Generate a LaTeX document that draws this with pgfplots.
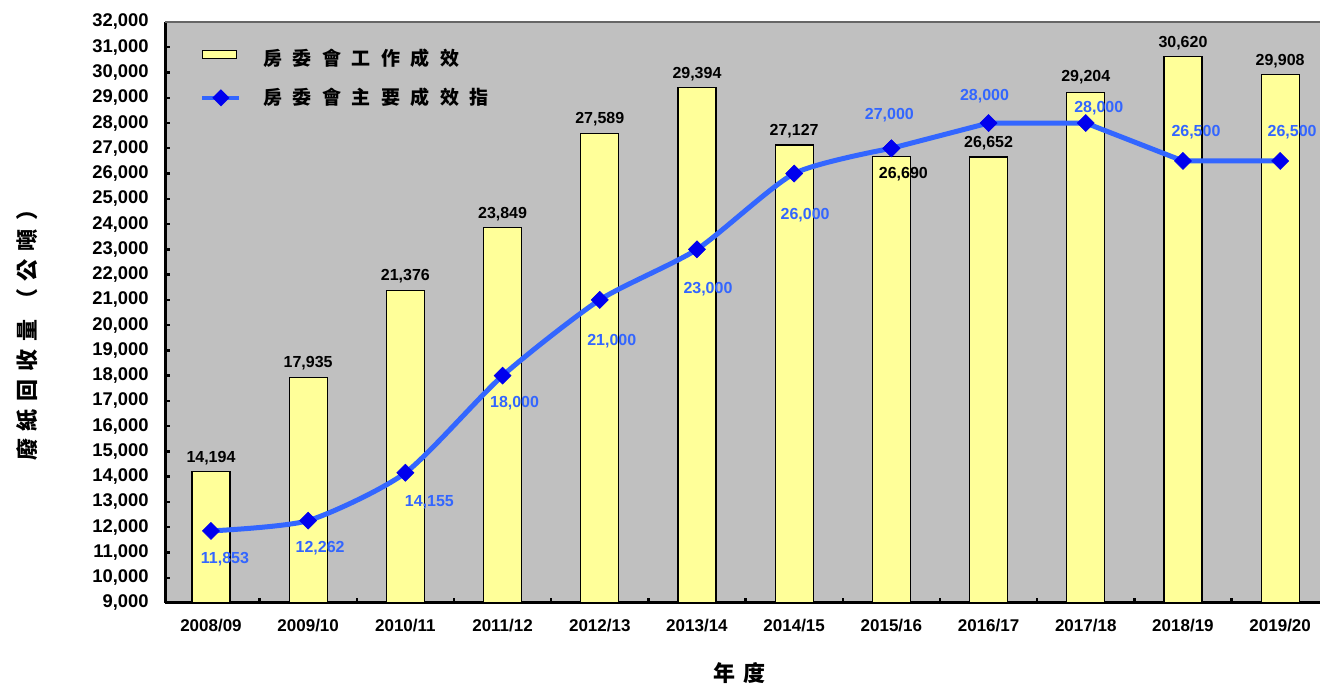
\documentclass[border=0pt]{standalone}
\usepackage{fontspec}
\setmainfont{Liberation Sans}
\newfontfamily\cjk{Noto Sans CJK TC}
\usepackage{pgfplots}
\usepackage{pgfplotstable}
\pgfplotsset{compat=1.18}
\definecolor{bggray}{HTML}{C0C0C0}
\definecolor{baryellow}{HTML}{FFFF99}
\definecolor{lineblue}{HTML}{3366FF}
\definecolor{markblue}{HTML}{0000EE}
\def\g{\hspace{5.25pt}}
\def\gy{\hspace{4pt}}
\pgfplotstableread{
x y dx dy
0 14194 0 7
1 17935 0 7
2 21376 0 7
3 23849 0 7
4 27589 0 7
5 29394 0 7
6 27127 0 7
7 26690 6 -9
8 26652 0 7
9 29204 0 7.5
10 30620 0 7
11 29908 0 7
}\bars
\pgfplotstableread{
x y dx dy
0 11853 7 -14
1 12262 6 -14
2 14155 12 -14.5
3 18000 6 -14
4 21000 6 -20.5
5 23000 5.5 -20
6 26000 5.5 -21
7 27000 -1 16.5
8 28000 -2 13.5
9 28000 6.5 7.5
10 26500 6.5 14.5
11 26500 6 14.5
}\target
\pgfplotsset{
  labelplot/.style={draw=none, mark=none, forget plot,
    visualization depends on={\thisrow{dx}\as\ldx},
    visualization depends on={\thisrow{dy}\as\ldy},
    nodes near coords={\pgfmathprintnumber[fixed,precision=0,1000 sep={,}]{\pgfplotspointmeta}},
    nodes near coords style={anchor=center, xshift=\ldx pt, yshift=\ldy pt, font=\fontsize{8}{10}\selectfont\bfseries, inner sep=0pt, #1}},
  lineplot/.style={color=lineblue, line width=2.5pt,
    mark=square*, mark size=3pt, mark options={rotate=45, fill=markblue, draw=markblue, line width=0.3pt}},
}
\begin{document}
\begin{tikzpicture}
\useasboundingbox (0,0) rectangle (660pt,342pt);
\begin{axis}[
  at={(82.5pt,40.5pt)}, anchor=south west,
  scale only axis, width=577.5pt, height=290.5pt,
  xmin=-0.473, xmax=11.41, ymin=9000, ymax=32000,
  axis x line=bottom, axis y line=left,
  axis line style={-, line width=1.5pt, black},
  axis background/.style={fill=bggray},
  /pgf/number format/assume math mode=true,
  scaled y ticks=false,
  xtick={0,...,11},
  xticklabels={2008/09,2009/10,2010/11,2011/12,2012/13,2013/14,2014/15,2015/16,2016/17,2017/18,2018/19,2019/20},
  minor xtick={0.5,1.5,...,10.5},
  ytick={9000,10000,...,32000},
  minor ytick={10000,11000,...,31000},
  yticklabel={\pgfmathprintnumber[fixed,precision=0,1000 sep={,}]{\tick}},
  major tick length=0pt, minor tick length=2.5pt,
  tick align=inside,
  minor tick style={line width=1.2pt, black},
  xticklabel style={font=\fontsize{8.5}{10}\selectfont\bfseries, inner sep=0pt, anchor=north, yshift=-8pt},
  yticklabel style={font=\fontsize{9.2}{11}\selectfont\bfseries, inner sep=0pt, anchor=east, xshift=-8pt},
  clip=true,
  legend style={draw=none, fill=none, at={(axis description cs:0.0303,0.962)}, anchor=north west,
    font=\fontsize{9.5}{11}\selectfont\cjk\bfseries, row sep=6pt, inner sep=0pt,
    /tikz/every odd column/.append style={column sep=9pt}},
  legend cell align=left,
]
\addplot[ybar, bar width=19pt, fill=baryellow, draw=black, line width=0.6pt,
  legend image code/.code={\draw[fill=baryellow, draw=black, line width=0.6pt] (0pt,0pt) rectangle (17pt,4pt);}
] table[x=x,y=y] {\bars};
\addlegendentry{房\g 委\g 會\g 工\g 作\g 成\g 效}
\addplot[lineplot, smooth, tension=0.4, restrict x to domain=0:7,
  legend image code/.code={\draw[lineblue, line width=2pt] (0pt,0pt) -- (18.5pt,0pt);
    \fill[markblue] (9.25pt,2.5pt) -- (11.75pt,0pt) -- (9.25pt,-2.5pt) -- (6.75pt,0pt) -- cycle;}
] table[x=x,y=y] {\target};
\addlegendentry{房\g 委\g 會\g 主\g 要\g 成\g 效\g 指}
\addplot[lineplot, sharp plot, restrict x to domain=7:11, forget plot] table[x=x,y=y] {\target};
\addplot[labelplot={black}] table[x=x,y=y] {\bars};
\addplot[labelplot={lineblue}] table[x=x,y=y] {\target};
\draw[gray!80!black, line width=0.6pt] (rel axis cs:0,1) -- (rel axis cs:1,1);
\end{axis}
\node[rotate=90, font=\fontsize{11}{13}\selectfont\cjk\bfseries, inner sep=0pt] at (13.5pt,177pt) {廢\gy 紙\gy 回\gy 收\gy 量\gy （\gy 公\gy 噸\gy ）};
\node[font=\fontsize{11}{13}\selectfont\cjk\bfseries, inner sep=0pt] at (369.5pt,5.5pt) {年\hspace{4pt}度};
\end{tikzpicture}
\end{document}
